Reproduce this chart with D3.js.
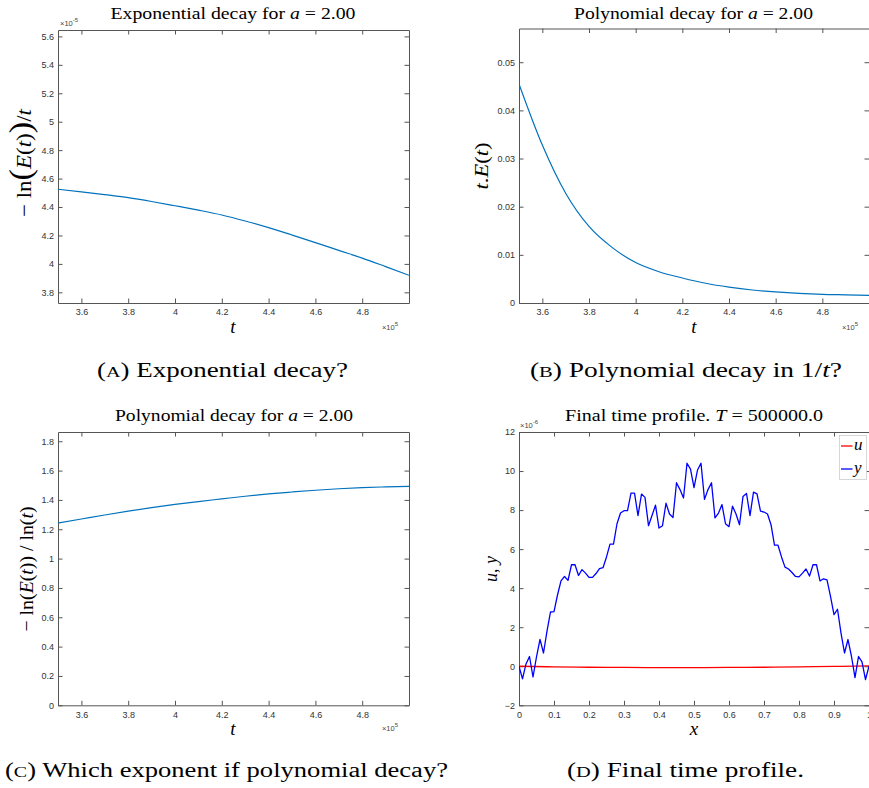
<!DOCTYPE html>
<html>
<head>
<meta charset="utf-8">
<script src="https://cdn.jsdelivr.net/npm/d3@7"></script>
<style>
  body { margin: 0; background: #fff; }
  svg { display: block; }
  .tick text { font-family: "Liberation Sans", Arial, sans-serif; font-size: 9px; fill: #333; }
  .tick line, .domain { stroke: #555; }
  .serif { font-family: "Liberation Serif", "Times New Roman", serif; fill: #000; }
  .tiny { font-family: "Liberation Sans", Arial, sans-serif; font-size: 7.5px; fill: #444; }
</style>
</head>
<body>
<svg id="fig" width="869" height="788"></svg>
<script>
// time samples (x 10^5) used by panels A, B, C
var tValues = [3.5, 3.6, 3.7, 3.8, 3.9, 4.0, 4.1, 4.2, 4.3, 4.4, 4.5, 4.6, 4.7, 4.8, 4.9, 5.0];
// -ln(E(t))/t  (x 10^-5)
var expDecay = [4.525, 4.507, 4.487, 4.466, 4.439, 4.409, 4.378, 4.344, 4.302, 4.255, 4.203, 4.150, 4.095, 4.041, 3.981, 3.920];
// t.E(t)
var polyDecay = [0.0455, 0.0328, 0.0228, 0.0159, 0.0115, 0.0084, 0.0065, 0.0052, 0.0041, 0.0033, 0.0027, 0.0023, 0.0020, 0.0018, 0.0017, 0.0016];
// -ln(E(t))/ln(t)
var polyExponent = [1.243, 1.270, 1.297, 1.323, 1.347, 1.369, 1.389, 1.407, 1.425, 1.441, 1.454, 1.466, 1.476, 1.484, 1.489, 1.493];

// final time profile, x grid
var xGrid = [
  0, 0.01, 0.02, 0.03, 0.04, 0.05, 0.06, 0.07, 0.08, 0.09,
  0.1, 0.11, 0.12, 0.13, 0.14, 0.15, 0.16, 0.17, 0.18, 0.19,
  0.2, 0.21, 0.22, 0.23, 0.24, 0.25, 0.26, 0.27, 0.28, 0.29,
  0.3, 0.31, 0.32, 0.33, 0.34, 0.35, 0.36, 0.37, 0.38, 0.39,
  0.4, 0.41, 0.42, 0.43, 0.44, 0.45, 0.46, 0.47, 0.48, 0.49,
  0.5, 0.51, 0.52, 0.53, 0.54, 0.55, 0.56, 0.57, 0.58, 0.59,
  0.6, 0.61, 0.62, 0.63, 0.64, 0.65, 0.66, 0.67, 0.68, 0.69,
  0.7, 0.71, 0.72, 0.73, 0.74, 0.75, 0.76, 0.77, 0.78, 0.79,
  0.8, 0.81, 0.82, 0.83, 0.84, 0.85, 0.86, 0.87, 0.88, 0.89,
  0.9, 0.91, 0.92, 0.93, 0.94, 0.95, 0.96, 0.97, 0.98, 0.99, 1
];
// y (x 10^-6)
var yProfile = [
  0, -0.65, 0.12, 0.5, -0.55, 0.48, 1.38, 0.68, 1.8, 2.78,
  2.8, 3.65, 4.37, 4.6, 4.4, 5.2, 5.2, 4.65, 4.95, 4.77,
  4.55, 4.55, 4.75, 5.0, 5.05, 5.6, 6.26, 6.26, 7.3, 7.85,
  7.97, 7.97, 8.87, 8.87, 7.72, 8.82, 8.65, 7.2, 7.72, 8.25,
  7.08, 7.2, 8.35, 7.8, 7.62, 9.4, 9.05, 8.62, 10.4, 10.1,
  9.15, 10.05, 10.4, 8.55, 9.05, 9.4, 7.6, 7.85, 8.28, 7.3,
  7.15, 8.2, 7.8, 7.25, 8.7, 8.85, 7.72, 8.92, 8.83, 7.95,
  7.9, 7.8, 7.25, 6.2, 6.2, 5.6, 5.08, 4.98, 4.8, 4.6,
  4.58, 4.77, 4.98, 4.62, 5.2, 5.2, 4.37, 4.48, 4.42, 3.58,
  2.65, 2.92, 1.7, 0.68, 1.37, 0.5, -0.58, 0.5, 0.22, -0.68, 0
];
// u (x 10^-6), coarse samples
var uX = [0, 0.1, 0.2, 0.3, 0.4, 0.5, 0.6, 0.7, 0.8, 0.9, 1];
var uProfile = [0, -0.03, -0.05, -0.06, -0.07, -0.07, -0.06, -0.05, -0.03, -0.01, 0.02];

var tTicks = [3.6, 3.8, 4, 4.2, 4.4, 4.6, 4.8];
var expTicks = [3.8, 4, 4.2, 4.4, 4.6, 4.8, 5, 5.2, 5.4, 5.6];
var polyTicks = [0, 0.01, 0.02, 0.03, 0.04, 0.05];
var exponentTicks = [0, 0.2, 0.4, 0.6, 0.8, 1, 1.2, 1.4, 1.6, 1.8];
var profileXTicks = [0, 0.1, 0.2, 0.3, 0.4, 0.5, 0.6, 0.7, 0.8, 0.9, 1];
var profileYTicks = [-2, 0, 2, 4, 6, 8, 10, 12];

var svg = d3.select('#fig');
var fmt = d3.format('~g');
var clipCount = 0;

function drawAxes({ left, top, right, bottom, xDomain, yDomain, xTicks, yTicks }) {
  var x = d3.scaleLinear().domain(xDomain).range([left, right]);
  var y = d3.scaleLinear().domain(yDomain).range([bottom, top]);
  var g = svg.append('g');

  g.append('g').attr('transform', `translate(0,${bottom})`)
    .call(d3.axisBottom(x).tickValues(xTicks).tickFormat(fmt).tickSize(-4.5).tickSizeOuter(0).tickPadding(6));
  g.append('g').attr('transform', `translate(0,${top})`)
    .call(d3.axisTop(x).tickValues(xTicks).tickFormat('').tickSize(-4.5).tickSizeOuter(0));
  g.append('g').attr('transform', `translate(${left},0)`)
    .call(d3.axisLeft(y).tickValues(yTicks).tickFormat(fmt).tickSize(-4.5).tickSizeOuter(0).tickPadding(4));
  g.append('g').attr('transform', `translate(${right},0)`)
    .call(d3.axisRight(y).tickValues(yTicks).tickFormat('').tickSize(-4.5).tickSizeOuter(0));

  var id = 'clip' + clipCount++;
  svg.append('clipPath').attr('id', id).append('rect')
    .attr('x', left).attr('y', top).attr('width', right - left).attr('height', bottom - top);
  var plot = svg.append('g').attr('clip-path', `url(#${id})`);
  return { x, y, plot };
}

function drawLine(panel, xs, ys, color, width) {
  var line = d3.line()
    .x(function(d, i) { return panel.x(xs[i]); })
    .y(function(d) { return panel.y(d); });
  panel.plot.append('path')
    .datum(ys)
    .attr('fill', 'none')
    .attr('stroke', color)
    .attr('stroke-width', width)
    .attr('stroke-linejoin', 'round')
    .attr('d', line);
}

function drawSmooth(panel, xs, ys, color, width) {
  var line = d3.line()
    .curve(d3.curveMonotoneX)
    .x(function(d, i) { return panel.x(xs[i]); })
    .y(function(d) { return panel.y(d); });
  panel.plot.append('path')
    .datum(ys)
    .attr('fill', 'none')
    .attr('stroke', color)
    .attr('stroke-width', width)
    .attr('d', line);
}

// rich text: parts = [[text, style]] style: 'i' italic, number = font scale
function richText(parent, parts, size) {
  var text = parent.append('text').attr('class', 'serif').attr('font-size', size);
  parts.forEach(function(p) {
    var ts = text.append('tspan').text(p[0]);
    if (p[1] === 'i') ts.attr('font-style', 'italic');
    if (typeof p[1] === 'number') ts.attr('font-size', size * p[1]);
  });
  return text;
}

function title(cx, baseline, parts, width) {
  richText(svg, parts, 17.5).attr('x', cx).attr('y', baseline).attr('text-anchor', 'middle')
    .attr('textLength', width).attr('lengthAdjust', 'spacingAndGlyphs');
}

function yLabel(cx, cy, parts, size, len) {
  var g = svg.append('g').attr('transform', `translate(${cx},${cy}) rotate(-90)`);
  var t = richText(g, parts, size).attr('text-anchor', 'middle');
  if (len) t.attr('textLength', len).attr('lengthAdjust', 'spacingAndGlyphs');
}

function xLabel(cx, baseline, s) {
  richText(svg, [[s, 'i']], 19).attr('x', cx).attr('y', baseline).attr('text-anchor', 'middle');
}

function caption(cx, baseline, letter, rest, width) {
  var text = svg.append('text').attr('class', 'serif').attr('font-size', 20)
    .attr('x', cx).attr('y', baseline).attr('text-anchor', 'middle')
    .attr('textLength', width).attr('lengthAdjust', 'spacingAndGlyphs');
  text.append('tspan').text('(');
  text.append('tspan').attr('font-size', 15).text(letter);
  text.append('tspan').text(')');
  rest.forEach(function(p) {
    var ts = text.append('tspan').text(p[0]);
    if (p[1] === 'i') ts.attr('font-style', 'italic');
  });
}

function powerLabel(x, baseline, exp, anchor) {
  var text = svg.append('text').attr('class', 'tiny').attr('x', x).attr('y', baseline)
    .attr('text-anchor', anchor);
  text.append('tspan').text('\u00d710');
  text.append('tspan').attr('dy', -4).attr('font-size', 6).text(exp);
}

// (A) exponential decay
var panelA = drawAxes({
  left: 58, top: 30, right: 409, bottom: 303,
  xDomain: [3.5, 5.0], yDomain: [3.725, 5.645],
  xTicks: tTicks, yTicks: expTicks
});
drawSmooth(panelA, tValues, expDecay, '#0072BD', 1.2);
title(233, 19, [['Exponential decay for '], ['a', 'i'], [' = 2.00']], 245);
yLabel(31, 163, [['\u2212 ln'], ['(', 1.5], ['E', 'i'], ['('], ['t', 'i'], [')'], [')', 1.5], ['/'], ['t', 'i']], 21, 108);
xLabel(233, 333, 't');
powerLabel(60, 26, '-5', 'start');
powerLabel(398, 330, '5', 'end');
caption(222.5, 377, 'A', [[' Exponential decay?']], 251);

// (B) polynomial decay
var panelB = drawAxes({
  left: 519, top: 28.5, right: 869, bottom: 303,
  xDomain: [3.5, 5.0], yDomain: [0, 0.057],
  xTicks: tTicks, yTicks: polyTicks
});
drawSmooth(panelB, tValues, polyDecay, '#0072BD', 1.2);
title(693.5, 19, [['Polynomial decay for '], ['a', 'i'], [' = 2.00']], 239);
yLabel(488, 166, [['t', 'i'], ['.'], ['E', 'i'], ['('], ['t', 'i'], [')']], 18, 47);
xLabel(694, 333, 't');
powerLabel(858, 330, '5', 'end');
caption(686, 377, 'B', [[' Polynomial decay in 1/'], ['t', 'i'], ['?']], 312);

// (C) exponent
var panelC = drawAxes({
  left: 58, top: 432, right: 409, bottom: 705.3,
  xDomain: [3.5, 5.0], yDomain: [0, 1.863],
  xTicks: tTicks, yTicks: exponentTicks
});
drawSmooth(panelC, tValues, polyExponent, '#0072BD', 1.2);
title(234, 421, [['Polynomial decay for '], ['a', 'i'], [' = 2.00']], 238);
yLabel(33, 569, [['\u2212 ln('], ['E', 'i'], ['('], ['t', 'i'], [')) / ln('], ['t', 'i'], [')']], 19, 125);
xLabel(233, 735, 't');
powerLabel(398, 731, '5', 'end');
caption(226.5, 777, 'C', [[' Which exponent if polynomial decay?']], 443);

// (D) final time profile
var panelD = drawAxes({
  left: 519, top: 432, right: 869, bottom: 705.3,
  xDomain: [0, 1], yDomain: [-2, 12],
  xTicks: profileXTicks, yTicks: profileYTicks
});
drawSmooth(panelD, uX, uProfile, '#ff0000', 1.3);
drawLine(panelD, xGrid, yProfile, '#0000ff', 1.3);
title(694, 421, [['Final time profile. '], ['T', 'i'], [' = 500000.0']], 258);
yLabel(497, 569, [['u', 'i'], [', '], ['y', 'i']], 19, 26);
xLabel(694, 735, 'x');
powerLabel(520, 428, '-6', 'start');
caption(685.5, 777, 'D', [[' Final time profile.']], 237);

// legend
var legend = svg.append('g');
legend.append('rect').attr('x', 839.5).attr('y', 435.5).attr('width', 27).attr('height', 44)
  .attr('fill', '#fff').attr('stroke', '#ccc').attr('stroke-width', 0.8);
[['u', '#ff0000', 446], ['y', '#0000ff', 469]].forEach(function(d) {
  legend.append('line').attr('x1', 841).attr('x2', 852.5).attr('y1', d[2]).attr('y2', d[2])
    .attr('stroke', d[1]).attr('stroke-width', 1.3);
  legend.append('text').attr('class', 'serif').attr('font-size', 17).attr('font-style', 'italic')
    .attr('x', 854).attr('y', d[2] + 4).text(d[0]);
});
</script>
</body>
</html>
